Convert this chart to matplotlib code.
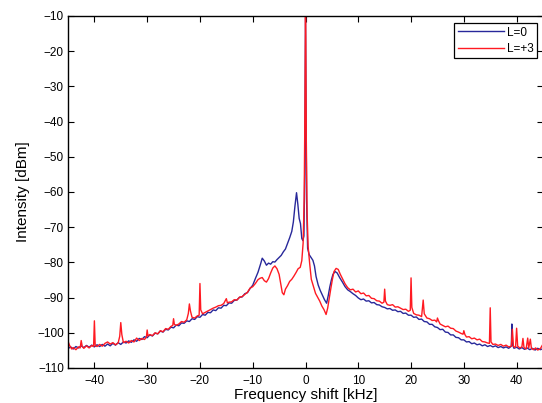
import matplotlib
matplotlib.use("Agg")
import matplotlib.pyplot as plt

# L=0 (blue) trace
freq_l0 = [
    -45.0, -44.5, -44.0, -43.5, -43.0, -42.5, -42.0, -41.5, -41.0, -40.5,
    -40.0, -39.5, -39.0, -38.5, -38.0, -37.5, -37.0, -36.5, -36.0, -35.5,
    -35.0, -34.5, -34.0, -33.5, -33.0, -32.5, -32.0, -31.5, -31.0, -30.5,
    -30.0, -29.5, -29.0, -28.5, -28.0, -27.5, -27.0, -26.5, -26.0, -25.5,
    -25.0, -24.5, -24.0, -23.5, -23.0, -22.5, -22.0, -21.5, -21.0, -20.5,
    -20.0, -19.5, -19.0, -18.5, -18.0, -17.5, -17.0, -16.5, -16.0, -15.5,
    -15.0, -14.5, -14.0, -13.5, -13.0, -12.5, -12.0, -11.5, -11.0, -10.5,
    -10.0, -9.5, -9.0, -8.5, -8.2, -7.8, -7.4, -7.0, -6.6, -6.2,
    -5.8, -5.4, -5.0, -4.6, -4.2, -3.8, -3.4, -3.0, -2.6, -2.3,
    -2.0, -1.7, -1.45, -1.2, -0.95, -0.7, -0.5, -0.3, -0.15, -0.05,
    0.0, 0.08, 0.2, 0.4, 0.7, 1.0, 1.4, 1.7, 2.0, 2.4,
    2.8, 3.2, 3.6, 4.0, 4.3, 4.6, 4.9, 5.2, 5.6, 6.0,
    6.5, 7.0, 7.5, 8.0, 8.5, 9.0, 9.5, 10.0, 10.5, 11.0,
    11.5, 12.0, 12.5, 13.0, 13.5, 14.0, 14.5, 15.0, 15.5, 16.0,
    16.5, 17.0, 17.5, 18.0, 18.5, 19.0, 19.5, 20.0, 20.5, 21.0,
    21.5, 22.0, 22.5, 23.0, 23.5, 24.0, 24.5, 25.0, 25.5, 26.0,
    26.5, 27.0, 27.5, 28.0, 28.5, 29.0, 29.5, 30.0, 30.5, 31.0,
    31.5, 32.0, 32.5, 33.0, 33.5, 34.0, 34.5, 35.0, 35.5, 36.0,
    36.5, 37.0, 37.5, 38.0, 38.5, 39.0, 39.1, 39.25, 39.5, 40.0,
    40.5, 41.0, 41.5, 42.0, 42.5, 43.0, 43.5, 44.0, 44.5, 45.0,
]
level_l0 = [
    -104.5, -104.0, -104.6, -103.9, -104.3, -103.7, -104.2, -103.6, -104.1, -103.5,
    -104.0, -103.4, -103.9, -103.3, -103.8, -103.2, -103.7, -103.0, -103.5, -102.8,
    -103.3, -102.6, -102.9, -102.3, -102.7, -102.0, -102.4, -101.6, -101.9, -101.1,
    -101.4, -100.6, -100.9, -100.1, -100.3, -99.5, -99.8, -99.0, -99.2, -98.4,
    -98.6, -97.8, -98.0, -97.2, -97.3, -96.6, -96.8, -96.0, -96.2, -95.4,
    -95.6, -94.8, -95.0, -94.2, -94.3, -93.5, -93.7, -92.9, -93.0, -92.2,
    -92.3, -91.5, -91.6, -90.8, -90.7, -89.9, -89.8, -88.9, -88.6, -87.4,
    -86.5, -84.6, -82.8, -80.4, -78.8, -79.6, -80.8, -80.2, -80.5, -79.8,
    -79.9, -79.2, -78.6, -78.0, -77.0, -76.2, -74.6, -73.0, -71.2, -68.5,
    -64.0, -60.2, -63.5, -67.5, -69.0, -73.2, -73.8, -72.5, -55.0, -25.0,
    -10.5, -30.0, -62.0, -76.0, -77.8, -78.5, -79.4, -81.0, -84.0, -86.4,
    -88.0, -89.3, -90.6, -91.6, -89.5, -87.0, -85.0, -83.4, -82.6, -83.0,
    -84.4, -85.6, -86.9, -87.8, -88.3, -88.9, -89.4, -90.1, -90.6, -90.4,
    -91.0, -90.9, -91.5, -91.4, -92.0, -92.1, -92.6, -92.8, -93.2, -93.1,
    -93.6, -93.5, -94.0, -93.9, -94.5, -94.4, -95.0, -95.0, -95.6, -95.5,
    -96.2, -96.1, -96.8, -96.9, -97.6, -97.6, -98.3, -98.5, -99.1, -99.0,
    -99.8, -99.9, -100.6, -100.6, -101.3, -101.4, -102.0, -102.0, -102.6, -102.5,
    -103.1, -102.9, -103.4, -103.2, -103.7, -103.4, -103.9, -103.6, -104.0, -103.7,
    -104.2, -103.9, -104.3, -104.0, -104.4, -103.8, -97.5, -103.5, -104.4, -104.1,
    -104.6, -104.2, -104.7, -104.3, -104.8, -104.4, -104.9, -104.4, -104.8, -104.5,
]

# L=+3 (red) trace
freq_l3 = [
    -45.0, -44.7, -44.3, -44.0, -43.5, -43.0, -42.7, -42.5, -42.3, -42.0,
    -41.5, -41.0, -40.5, -40.15, -40.0, -39.85, -39.5, -39.0, -38.5, -38.0,
    -37.5, -37.0, -36.5, -36.0, -35.5, -35.2, -35.0, -34.8, -34.5, -34.0,
    -33.5, -33.0, -32.5, -32.0, -31.5, -31.0, -30.5, -30.15, -30.0, -29.85,
    -29.5, -29.0, -28.5, -28.0, -27.5, -27.0, -26.5, -26.0, -25.5, -25.15,
    -25.0, -24.85, -24.5, -24.0, -23.5, -23.0, -22.5, -22.2, -22.0, -21.8,
    -21.5, -21.0, -20.5, -20.15, -20.0, -19.85, -19.5, -19.0, -18.5, -18.0,
    -17.5, -17.0, -16.5, -16.0, -15.5, -15.0, -14.8, -14.5, -14.0, -13.5,
    -13.0, -12.5, -12.0, -11.5, -11.0, -10.5, -10.0, -9.5, -9.0, -8.6,
    -8.2, -7.8, -7.4, -7.0, -6.6, -6.2, -5.8, -5.4, -5.0, -4.7,
    -4.4, -4.1, -3.8, -3.4, -3.0, -2.6, -2.2, -1.8, -1.4, -1.0,
    -0.7, -0.45, -0.25, -0.1, 0.0, 0.06, 0.15, 0.3, 0.5, 0.8,
    1.1, 1.5, 1.9, 2.3, 2.7, 3.1, 3.5, 3.9, 4.2, 4.5,
    4.8, 5.1, 5.4, 5.8, 6.2, 6.6, 7.0, 7.5, 8.0, 8.5,
    9.0, 9.5, 10.0, 10.5, 11.0, 11.5, 12.0, 12.5, 13.0, 13.5,
    14.0, 14.5, 14.85, 15.0, 15.15, 15.5, 16.0, 16.5, 17.0, 17.5,
    18.0, 18.5, 19.0, 19.5, 19.85, 20.0, 20.15, 20.5, 21.0, 21.5,
    22.0, 22.3, 22.5, 23.0, 23.5, 24.0, 24.5, 24.85, 25.0, 25.2,
    25.5, 26.0, 26.5, 27.0, 27.5, 28.0, 28.5, 29.0, 29.5, 29.85,
    30.0, 30.2, 30.5, 31.0, 31.5, 32.0, 32.5, 33.0, 33.5, 34.0,
    34.5, 34.85, 35.0, 35.15, 35.5, 36.0, 36.5, 37.0, 37.5, 38.0,
    38.5, 39.0, 39.2, 39.4, 39.8, 40.0, 40.2, 40.6, 41.0, 41.2,
    41.4, 41.8, 42.1, 42.3, 42.6, 42.8, 43.2, 43.6, 44.0, 44.5,
    45.0,
]
level_l3 = [
    -102.4, -103.6, -104.6, -104.2, -104.8, -104.0, -104.3, -102.2, -103.9, -104.4,
    -103.7, -104.3, -103.6, -103.9, -96.6, -103.6, -103.9, -103.3, -103.8, -103.0,
    -102.6, -103.2, -102.8, -103.4, -102.9, -101.0, -97.1, -100.5, -102.8, -102.4,
    -102.9, -102.2, -102.6, -101.5, -102.2, -101.6, -101.9, -101.2, -99.2, -100.9,
    -100.5, -100.8, -100.0, -100.3, -99.4, -99.7, -98.8, -99.0, -98.2, -97.9,
    -96.0, -97.6, -97.9, -97.5, -96.8, -97.0, -96.3, -94.5, -91.8, -93.8,
    -95.6, -95.8, -95.2, -95.0, -86.0, -93.5, -94.6, -94.2, -93.8, -93.4,
    -93.0, -92.7, -92.3, -92.2, -91.7, -90.3, -91.5, -91.3, -91.2, -90.6,
    -90.7, -89.9, -89.7, -89.1, -88.5, -87.3, -86.9, -86.0, -84.9, -84.5,
    -84.3, -85.2, -85.6, -84.6, -83.0, -81.6, -81.0, -81.8, -83.4, -86.0,
    -88.6, -89.2, -87.6, -86.6, -85.4, -84.8, -83.9, -82.9, -81.8, -81.4,
    -79.5, -74.5, -62.0, -35.0, -10.0, -18.0, -45.0, -66.0, -75.5, -80.5,
    -84.8, -86.8, -88.8, -89.9, -91.0, -92.4, -93.4, -94.8, -93.0, -90.2,
    -87.4, -84.8, -82.6, -81.7, -82.0, -83.4, -84.6, -86.1, -87.2, -87.8,
    -87.6, -88.4, -88.1, -88.9, -88.7, -89.5, -89.4, -90.2, -90.3, -90.9,
    -91.0, -91.6, -91.3, -87.6, -91.0, -92.0, -92.2, -92.0, -92.7, -92.6,
    -93.0, -93.4, -93.3, -93.9, -93.6, -84.4, -92.8, -94.5, -94.9, -95.0,
    -95.4, -90.7, -94.6, -95.8, -96.0, -96.5, -96.4, -96.9, -95.8, -96.6,
    -97.5, -97.9, -98.3, -98.1, -98.7, -98.8, -99.5, -99.8, -100.2, -100.4,
    -99.4, -100.5, -101.2, -101.1, -101.7, -101.5, -102.0, -101.8, -102.5, -102.6,
    -102.9, -103.0, -92.9, -102.6, -103.3, -103.2, -103.6, -103.3, -103.8, -103.5,
    -104.0, -103.8, -99.0, -103.9, -104.1, -98.7, -103.8, -104.3, -104.0, -101.6,
    -104.2, -104.6, -101.5, -104.3, -101.8, -104.4, -104.8, -104.3, -104.9, -104.5,
    -103.2,
]

x_ticks = [-40, -30, -20, -10, 0, 10, 20, 30, 40]
y_ticks = [-110, -100, -90, -80, -70, -60, -50, -40, -30, -20, -10]

plt.rcParams["font.family"] = ["Liberation Sans", "DejaVu Sans"]

fig = plt.figure(figsize=(5.42, 4.03), dpi=100)
ax = fig.add_axes([68 / 542, 1 - 368 / 403, 475 / 542, 352 / 403])

ax.plot(freq_l0, level_l0, color="#28289a", linewidth=1.0, label="L=0")
ax.plot(freq_l3, level_l3, color="#ff1a22", linewidth=1.0, label="L=+3")

ax.set_xlim(-45, 45)
ax.set_ylim(-110, -10)
ax.set_xticks(x_ticks)
ax.set_yticks(y_ticks)
ax.tick_params(direction="in", length=4, width=0.8, top=True, right=True,
               labelsize=8.5)
ax.tick_params(axis="x", pad=5)
ax.tick_params(axis="y", pad=3)
for spine in ax.spines.values():
    spine.set_linewidth(1.0)

ax.set_xlabel("Frequency shift [kHz]", fontsize=11, labelpad=1)
ax.set_ylabel("Intensity [dBm]", fontsize=11, labelpad=5)

leg = ax.legend(loc="upper right", bbox_to_anchor=(537 / 542, 1 - 23 / 403),
                bbox_transform=fig.transFigure, borderaxespad=0,
                fontsize=8.5, handlelength=3.9, handletextpad=0.25,
                labelspacing=0.35, borderpad=0.3, fancybox=False,
                framealpha=1)
leg.get_frame().set_edgecolor("black")
leg.get_frame().set_linewidth(0.9)

plt.savefig("out.png", dpi=100)
plt.close()
